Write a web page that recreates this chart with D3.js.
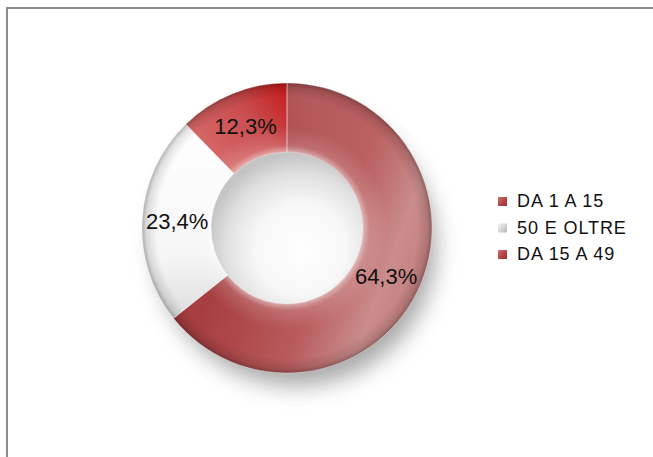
<!DOCTYPE html>
<html>
<head>
<meta charset="utf-8">
<script src="https://cdn.jsdelivr.net/npm/d3@7"></script>
<style>
  html, body { margin: 0; padding: 0; background: #fff; }
  svg { display: block; }
  text { font-family: "Liberation Sans", Arial, sans-serif; fill: #111; }
</style>
</head>
<body>
<svg id="chart" width="653" height="457"></svg>
<script>
// slices, clockwise from 12 o'clock
const categories = ["DA 1 A 15", "50 E OLTRE", "DA 15 A 49"];
const values = [64.3, 23.4, 12.3];
const fills = ["url(#gBig)", "url(#gWhite)", "url(#gSmall)"];
const legendFills = ["url(#lgRed)", "url(#lgGrey)", "url(#lgRed)"];

const svg = d3.select("#chart");
const cx = 287, cy = 228, rOuter = 145, rInner = 76;

const it = d3.formatLocale({decimal: ",", thousands: ".", grouping: [3], currency: ["", "€"]});
const fmt = v => it.format(".1f")(v) + "%";

// ---- defs: gradients and shadow ----
// (userSpaceOnUse coords are relative to the donut centre)
const defs = svg.append("defs");

function addStops(g, stops) {
    stops.forEach(s => g.append("stop").attr("offset", s[0]).attr("stop-color", s[1])
        .attr("stop-opacity", s[2] == null ? 1 : s[2]));
}
function linear(id, x1, y1, x2, y2, stops, units) {
    const g = defs.append("linearGradient").attr("id", id)
        .attr("gradientUnits", units || "userSpaceOnUse")
        .attr("x1", x1).attr("y1", y1).attr("x2", x2).attr("y2", y2);
    addStops(g, stops);
}
function radial(id, stops, opts) {
    const g = defs.append("radialGradient").attr("id", id).attr("gradientUnits", "userSpaceOnUse");
    Object.entries(opts).forEach(([k, v]) => g.attr(k, v));
    addStops(g, stops);
}

linear("gBig", -120, 60, 120, 150, [[0, "#a0363a"], [0.3, "#ad4749"], [0.55, "#b95c5d"],
    [0.78, "#ca8c8c"], [1, "#c37979"]]);
radial("gBigTop", [[0, "#ffffff", 0.12], [1, "#ffffff", 0]], {cx: 20, cy: -130, r: 110});
linear("gSmall", -85, -75, 5, -145, [[0, "#d86a6a"], [0.55, "#c84b4d"], [1, "#c81414"]]);
linear("gWhite", -125, -100, -105, 100, [[0, "#ffffff"], [0.65, "#f5f5f5"], [1, "#dadada"]]);

// bevel across the ring
radial("gBevel", [
    [rInner / rOuter, "#ffffff", 0.5],
    [0.57, "#ffffff", 0.15],
    [0.7, "#ffffff", 0],
    [0.9, "#000000", 0],
    [0.97, "#000000", 0.12],
    [1, "#000000", 0.3]
], {cx: 0, cy: 0, r: rOuter});

radial("gHole", [[0, "#ffffff"], [0.5, "#f7f7f7"], [0.8, "#e0e0e0"], [1, "#c4c4c4"]],
    {cx: 12, cy: 18, r: rInner + 16, fx: 16, fy: 24});

linear("lgRed", 0, 0, 1, 1, [[0, "#d27474"], [0.5, "#b84848"], [1, "#982c2e"]], "objectBoundingBox");
linear("lgGrey", 0, 0, 1, 1, [[0, "#f4f4f4"], [1, "#b8b8b8"]], "objectBoundingBox");

defs.append("filter").attr("id", "blur")
    .attr("x", "-30%").attr("y", "-30%").attr("width", "160%").attr("height", "160%")
    .append("feGaussianBlur").attr("stdDeviation", 11);

// ---- frame (top and left only) ----
svg.append("path")
    .attr("d", "M7,457 V8 H653")
    .attr("fill", "none").attr("stroke", "#8c8c8c").attr("stroke-width", 2);

// ---- donut ----
const pie = d3.pie().sort(null).value(d => d);
const arcs = pie(values);
const arc = d3.arc().innerRadius(rInner).outerRadius(rOuter);
const labelArc = d3.arc().innerRadius(110).outerRadius(110);

const g = svg.append("g").attr("transform", `translate(${cx},${cy})`);

// drop shadow
g.append("circle")
    .attr("cx", 9).attr("cy", 18).attr("r", rOuter - 5)
    .attr("fill", "#707070").attr("opacity", 0.6)
    .attr("filter", "url(#blur)");

// hole
g.append("circle").attr("r", rInner + 1).attr("fill", "url(#gHole)");

g.selectAll("path.slice")
    .data(arcs)
    .join("path")
    .attr("class", "slice")
    .attr("d", arc)
    .attr("fill", (d, i) => fills[i]);

// soft light on top of the big slice
g.append("path")
    .attr("d", arc(arcs[0]))
    .attr("fill", "url(#gBigTop)");

g.selectAll("path.bevel")
    .data(arcs)
    .join("path")
    .attr("class", "bevel")
    .attr("d", arc)
    .attr("fill", "url(#gBevel)")
    .attr("stroke", "rgba(255,255,255,0.35)")
    .attr("stroke-width", 1);

// slice labels
g.selectAll("text.lbl")
    .data(arcs)
    .join("text")
    .attr("class", "lbl")
    .attr("transform", d => `translate(${labelArc.centroid(d)})`)
    .attr("text-anchor", "middle")
    .attr("dy", "0.36em")
    .attr("font-size", 22)
    .text(d => fmt(d.data));

// ---- legend ----
const legend = svg.append("g").attr("transform", "translate(498,207)");
const rows = legend.selectAll("g")
    .data(categories)
    .join("g")
    .attr("transform", (d, i) => `translate(0,${i * 26.5})`);
rows.append("rect")
    .attr("x", 0).attr("y", -10).attr("width", 9).attr("height", 9)
    .attr("fill", (d, i) => legendFills[i]);
rows.append("text")
    .attr("x", 19).attr("y", 0)
    .attr("font-size", 18)
    .attr("letter-spacing", 0.9)
    .text(d => d);
</script>
</body>
</html>
